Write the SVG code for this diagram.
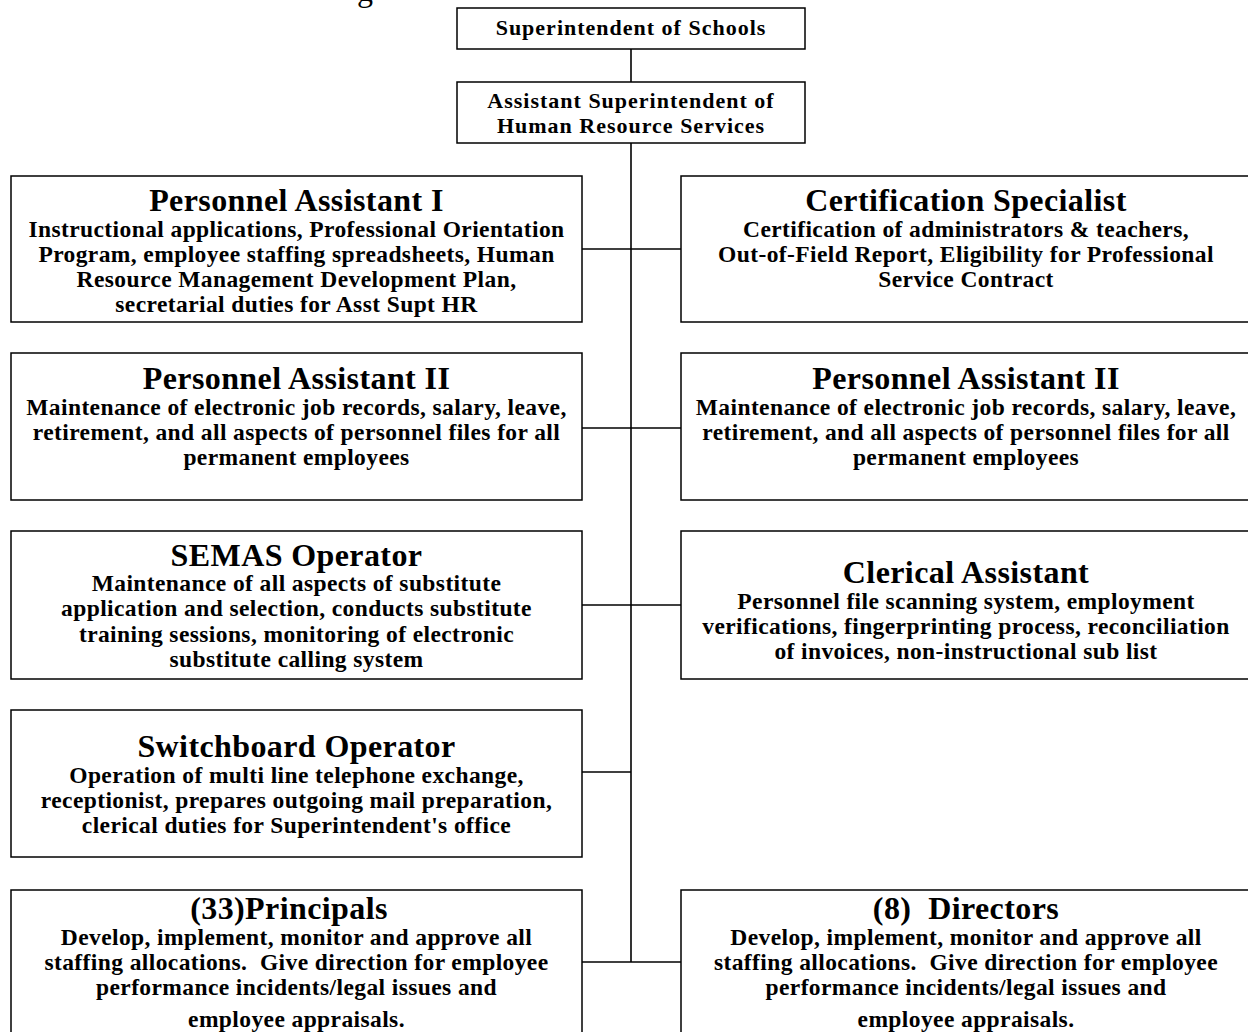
<svg xmlns="http://www.w3.org/2000/svg" width="1248" height="1032" viewBox="0 0 1248 1032">
  <style>
    .box { fill: #ffffff; stroke: #000000; stroke-width: 1.5; }
    .wire { fill: none; stroke: #000000; stroke-width: 1.6; }
    .t { font-family: "Liberation Serif", "Times New Roman", serif; font-weight: bold; text-anchor: middle; fill: #000000; }
    .h { font-size: 32px; letter-spacing: 0.4px; }
    .b { font-size: 23.5px; letter-spacing: 0.4px; }
    .s { font-size: 22px; letter-spacing: 1px; }
  </style>
  <rect width="1248" height="1032" fill="#ffffff"/>

  <!-- page heading, mostly above the sheet edge -->
  <text x="357" y="1" font-family="Liberation Serif, Times New Roman, serif" font-size="32" fill="#000">g</text>

  <!-- connectors -->
  <g id="connectors">
    <line class="wire" x1="631" y1="49" x2="631" y2="82"/>
    <line class="wire" x1="631" y1="143" x2="631" y2="962"/>
    <line class="wire" x1="582" y1="249" x2="681" y2="249"/>
    <line class="wire" x1="582" y1="428" x2="681" y2="428"/>
    <line class="wire" x1="582" y1="605" x2="681" y2="605"/>
    <line class="wire" x1="582" y1="772" x2="631" y2="772"/>
    <line class="wire" x1="582" y1="962" x2="681" y2="962"/>
  </g>

  <g id="superintendent">
    <rect class="box" x="457" y="8" width="348" height="41"/>
    <text class="t s" x="631" y="35">Superintendent of Schools</text>
  </g>

  <g id="asst-superintendent">
    <rect class="box" x="457" y="82" width="348" height="61"/>
    <text class="t s" x="631" y="108">Assistant Superintendent of</text>
    <text class="t s" x="631" y="133">Human Resource Services</text>
  </g>

  <g id="personnel-assistant-1">
    <rect class="box" x="11" y="176" width="571" height="146"/>
    <text class="t h" x="296.5" y="211">Personnel Assistant I</text>
    <text class="t b" x="296.5" y="237">Instructional applications, Professional Orientation</text>
    <text class="t b" x="296.5" y="262">Program, employee staffing spreadsheets, Human</text>
    <text class="t b" x="296.5" y="287">Resource Management Development Plan,</text>
    <text class="t b" x="296.5" y="312">secretarial duties for Asst Supt HR</text>
  </g>

  <g id="certification-specialist">
    <rect class="box" x="681" y="176" width="571" height="146"/>
    <text class="t h" x="966" y="211">Certification Specialist</text>
    <text class="t b" x="966" y="237">Certification of administrators &amp; teachers,</text>
    <text class="t b" x="966" y="262">Out-of-Field Report, Eligibility for Professional</text>
    <text class="t b" x="966" y="287">Service Contract</text>
  </g>

  <g id="personnel-assistant-2-left">
    <rect class="box" x="11" y="353" width="571" height="147"/>
    <text class="t h" x="296.5" y="389">Personnel Assistant II</text>
    <text class="t b" x="296.5" y="415">Maintenance of electronic job records, salary, leave,</text>
    <text class="t b" x="296.5" y="440">retirement, and all aspects of personnel files for all</text>
    <text class="t b" x="296.5" y="465">permanent employees</text>
  </g>

  <g id="personnel-assistant-2-right">
    <rect class="box" x="681" y="353" width="571" height="147"/>
    <text class="t h" x="966" y="389">Personnel Assistant II</text>
    <text class="t b" x="966" y="415">Maintenance of electronic job records, salary, leave,</text>
    <text class="t b" x="966" y="440">retirement, and all aspects of personnel files for all</text>
    <text class="t b" x="966" y="465">permanent employees</text>
  </g>

  <g id="semas-operator">
    <rect class="box" x="11" y="531" width="571" height="148"/>
    <text class="t h" x="296.5" y="566">SEMAS Operator</text>
    <text class="t b" x="296.5" y="591">Maintenance of all aspects of substitute</text>
    <text class="t b" x="296.5" y="616">application and selection, conducts substitute</text>
    <text class="t b" x="296.5" y="642">training sessions, monitoring of electronic</text>
    <text class="t b" x="296.5" y="667">substitute calling system</text>
  </g>

  <g id="clerical-assistant">
    <rect class="box" x="681" y="531" width="571" height="148"/>
    <text class="t h" x="966" y="583">Clerical Assistant</text>
    <text class="t b" x="966" y="609">Personnel file scanning system, employment</text>
    <text class="t b" x="966" y="634">verifications, fingerprinting process, reconciliation</text>
    <text class="t b" x="966" y="659">of invoices, non-instructional sub list</text>
  </g>

  <g id="switchboard-operator">
    <rect class="box" x="11" y="710" width="571" height="147"/>
    <text class="t h" x="296.5" y="757">Switchboard Operator</text>
    <text class="t b" x="296.5" y="783">Operation of multi line telephone exchange,</text>
    <text class="t b" x="296.5" y="808">receptionist, prepares outgoing mail preparation,</text>
    <text class="t b" x="296.5" y="833">clerical duties for Superintendent's office</text>
  </g>

  <g id="principals">
    <rect class="box" x="11" y="890" width="571" height="160"/>
    <text class="t h" x="289" y="919">(33)Principals</text>
    <text class="t b" x="296.5" y="945">Develop, implement, monitor and approve all</text>
    <text class="t b" x="296.5" y="970" xml:space="preserve">staffing allocations.  Give direction for employee</text>
    <text class="t b" x="296.5" y="995">performance incidents/legal issues and</text>
    <text class="t b" x="296.5" y="1027">employee appraisals.</text>
  </g>

  <g id="directors">
    <rect class="box" x="681" y="890" width="571" height="160"/>
    <text class="t h" x="966" y="919" xml:space="preserve">(8)  Directors</text>
    <text class="t b" x="966" y="945">Develop, implement, monitor and approve all</text>
    <text class="t b" x="966" y="970" xml:space="preserve">staffing allocations.  Give direction for employee</text>
    <text class="t b" x="966" y="995">performance incidents/legal issues and</text>
    <text class="t b" x="966" y="1027">employee appraisals.</text>
  </g>
</svg>
